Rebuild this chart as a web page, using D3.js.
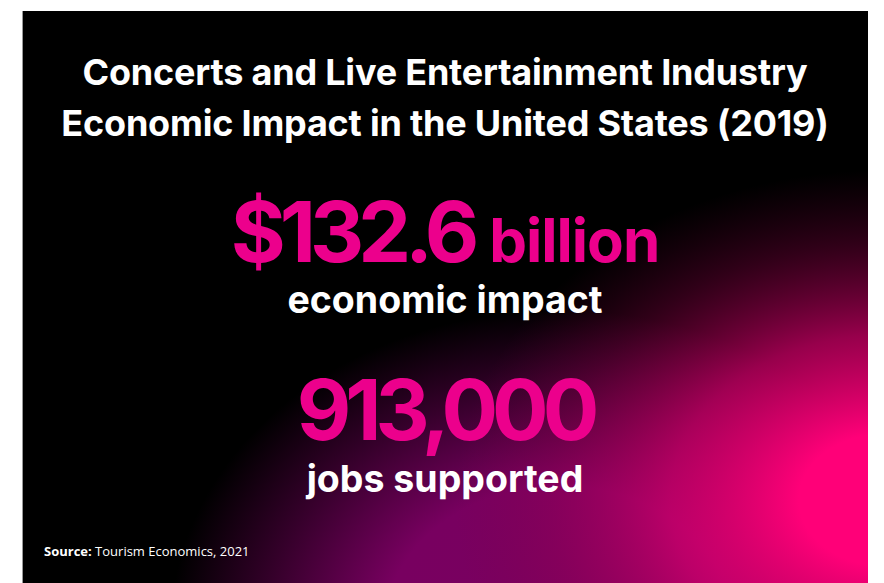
<!DOCTYPE html>
<html><head><meta charset="utf-8">
<script src="https://cdn.jsdelivr.net/npm/d3@7"></script>
<style>html,body{margin:0;padding:0;background:#fff;}svg{display:block;}</style>
</head><body>
<script>
const titleLines = ["Concerts and Live Entertainment Industry", "Economic Impact in the United States (2019)"];
const statValues = ["$132.6", "913,000"];
const statUnits = ["billion", ""];
const statLabels = ["economic impact", "jobs supported"];
const sourceLabel = "Source:";
const sourceText = " Tourism Economics, 2021";

const W = 884, H = 583;
const svg = d3.select("body").append("svg").attr("width", W).attr("height", H);
const defs = svg.append("defs");

const panel = {x: 22, y: 11, w: 846, h: 572};

function radial(id, cx, cy, rx, ry, stops) {
  const g = defs.append("radialGradient").attr("id", id)
    .attr("gradientUnits", "userSpaceOnUse").attr("cx", 0).attr("cy", 0).attr("r", 1)
    .attr("gradientTransform", `translate(${cx},${cy}) scale(${rx},${ry})`);
  stops.forEach(s => g.append("stop").attr("offset", s[0]).attr("stop-color", s[1]).attr("stop-opacity", s[2]));
}
radial("gPurple", 560, 630, 390, 320,
  [[0, "#7a0060", 1], [0.45, "#780060", 1], [0.75, "#780060", 0.45], [1, "#780060", 0]]);
radial("gPink", 885, 500, 430, 330,
  [[0, "#ff0078", 1], [0.2, "#ff0078", 1], [0.5, "#d8006c", 0.7], [0.78, "#a00050", 0.3], [1, "#800040", 0]]);

svg.append("rect").attr("x", panel.x).attr("y", panel.y).attr("width", panel.w).attr("height", panel.h).attr("fill", "#000");
svg.append("rect").attr("x", panel.x).attr("y", panel.y).attr("width", panel.w).attr("height", panel.h).attr("fill", "url(#gPurple)");
svg.append("rect").attr("x", panel.x).attr("y", panel.y).attr("width", panel.w).attr("height", panel.h).attr("fill", "url(#gPink)");
svg.append("line").attr("x1", panel.x + 0.5).attr("x2", panel.x + 0.5).attr("y1", panel.y).attr("y2", H)
  .attr("stroke", "#999").attr("stroke-width", 1);

const cx = 445;
const font = "Inter, 'Noto Sans', sans-serif";

svg.selectAll("text.title").data(titleLines).join("text")
  .attr("class", "title")
  .attr("x", cx).attr("y", (d, i) => 85 + i * 51)
  .attr("text-anchor", "middle").attr("fill", "#fff")
  .style("font-family", font).style("font-weight", 700).style("font-size", "36px")
  .style("letter-spacing", "-0.2px")
  .text(d => d);

const statY = [262, 440];
const labelY = [313, 492];
const pinkC = "#ec008c";

statValues.forEach((v, i) => {
  const t = svg.append("text").attr("x", cx).attr("y", statY[i]).attr("text-anchor", "middle")
    .attr("fill", pinkC).style("font-family", font).style("font-weight", 700);
  t.append("tspan").style("font-size", "84px").style("letter-spacing", "-6px").text(v);
  if (statUnits[i]) {
    t.append("tspan").attr("dx", 16).style("font-size", "60px").style("letter-spacing", "-1px").text(statUnits[i]);
  }
});

svg.selectAll("text.label").data(statLabels).join("text")
  .attr("class", "label")
  .attr("x", cx).attr("y", (d, i) => labelY[i])
  .attr("text-anchor", "middle").attr("fill", "#fff")
  .style("font-family", font).style("font-weight", 700).style("font-size", "37.5px")
  .text(d => d);

const src = svg.append("text").attr("x", 44).attr("y", 556).attr("fill", "#fff")
  .style("font-family", "'Open Sans', sans-serif").style("font-size", "13px");
src.append("tspan").style("font-weight", 700).text(sourceLabel);
src.append("tspan").text(sourceText);
</script>
</body></html>
